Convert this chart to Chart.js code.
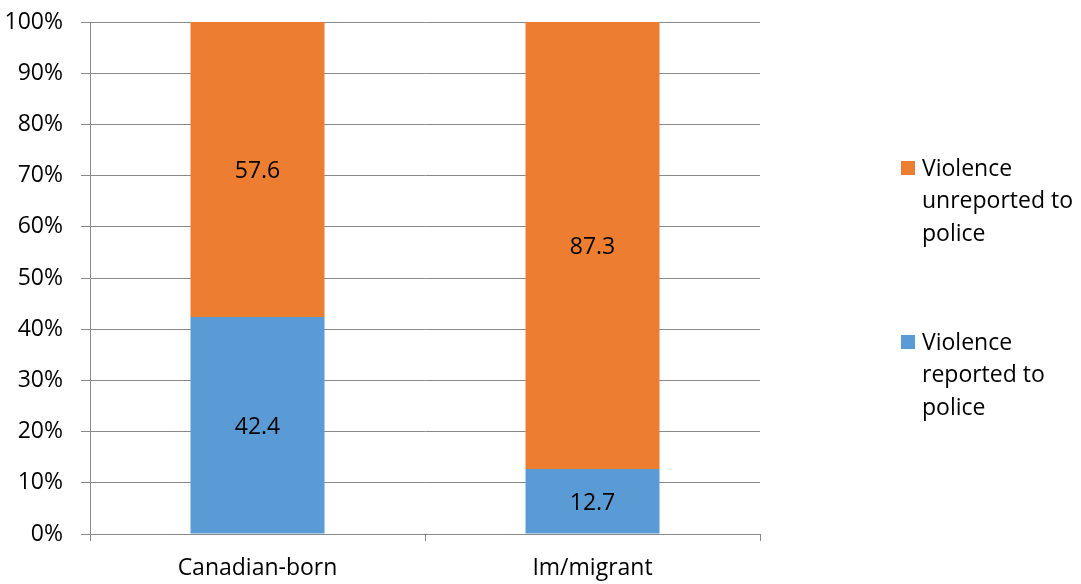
<!DOCTYPE html>
<html>
<head>
<meta charset="utf-8">
<script src="https://cdn.jsdelivr.net/npm/chart.js@4/dist/chart.umd.min.js"></script>
<style>
  html, body { margin: 0; padding: 0; background: #ffffff; }
  #wrap { width: 1081px; height: 584px; position: relative; }
</style>
</head>
<body>
<div id="wrap"><canvas id="c" width="1081" height="584"></canvas></div>
<script>
// Share of violence reported vs. unreported to police, by birthplace
const categories = ['Canadian-born', 'Im/migrant'];
const reported = [42.4, 12.7];
const unreported = [57.6, 87.3];
const reportedLabel = ['Violence', 'reported to', 'police'];
const unreportedLabel = ['Violence', 'unreported to', 'police'];
const yTicks = [0, 10, 20, 30, 40, 50, 60, 70, 80, 90, 100];

const FONT = "'Open Sans', sans-serif";
const FONT_SIZE = 23;
const GRID = '#898989';

// Writes each segment's value in the middle of its bar
const valueLabels = {
  id: 'valueLabels',
  afterDatasetsDraw(chart) {
    const ctx = chart.ctx;
    ctx.save();
    ctx.font = FONT_SIZE + 'px ' + FONT;
    ctx.fillStyle = '#000000';
    ctx.textAlign = 'center';
    ctx.textBaseline = 'middle';
    chart.data.datasets.forEach((ds, di) => {
      const meta = chart.getDatasetMeta(di);
      meta.data.forEach((bar, i) => {
        const mid = (bar.y + bar.base) / 2;
        ctx.fillText(ds.data[i].toFixed(1), bar.x, mid + 2);
      });
    });
    ctx.restore();
  }
};

// Legend on the right with wrapped, multi-line entries (top entry = top stack)
const sideLegend = {
  id: 'sideLegend',
  afterDraw(chart) {
    const ctx = chart.ctx;
    const x = 901, box = 14, textX = 922, lineH = 32.5;
    const entries = [
      { ds: chart.data.datasets[1], y: 168 },
      { ds: chart.data.datasets[0], y: 342 }
    ];
    ctx.save();
    ctx.font = FONT_SIZE + 'px ' + FONT;
    ctx.textAlign = 'left';
    ctx.textBaseline = 'middle';
    entries.forEach(e => {
      ctx.fillStyle = e.ds.backgroundColor;
      ctx.fillRect(x, e.y - 7, box, box);
      ctx.fillStyle = '#000000';
      e.ds.label.forEach((line, k) => {
        ctx.fillText(line, textX, e.y + k * lineH + 1);
      });
    });
    ctx.restore();
  }
};

new Chart(document.getElementById('c'), {
  type: 'bar',
  data: {
    labels: categories,
    datasets: [
      { label: reportedLabel, data: reported, backgroundColor: '#5B9BD5', borderWidth: 0 },
      { label: unreportedLabel, data: unreported, backgroundColor: '#ED7D31', borderWidth: 0 }
    ]
  },
  options: {
    responsive: false,
    animation: false,
    devicePixelRatio: 1,
    layout: { padding: { left: 0, right: 321, top: 22, bottom: 0 } },
    datasets: { bar: { categoryPercentage: 1.0, barPercentage: 0.4 } },
    plugins: { legend: { display: false }, tooltip: { enabled: false } },
    scales: {
      x: {
        stacked: true,
        afterFit(scale) { scale.height = 50; scale.paddingLeft = 0; scale.paddingRight = 0; },
        grid: { offset: true, drawOnChartArea: false, drawTicks: true, tickLength: 7, color: GRID, lineWidth: 1 },
        border: { display: true, color: GRID, width: 1 },
        ticks: { color: '#000000', font: { family: FONT, size: FONT_SIZE }, padding: 14, maxRotation: 0 }
      },
      y: {
        stacked: true,
        min: 0,
        max: 100,
        afterFit(scale) { scale.width = 90; scale.paddingTop = 0; scale.paddingBottom = 0; },
        afterBuildTicks(scale) { scale.ticks = yTicks.map(v => ({ value: v })); },
        grid: { color: GRID, lineWidth: 1, drawTicks: true, tickLength: 9 },
        border: { display: true, color: GRID, width: 1 },
        ticks: {
          color: '#000000',
          font: { family: FONT, size: FONT_SIZE },
          padding: 18,
          callback: v => v + '%'
        }
      }
    }
  },
  plugins: [valueLabels, sideLegend]
});
</script>
</body>
</html>
